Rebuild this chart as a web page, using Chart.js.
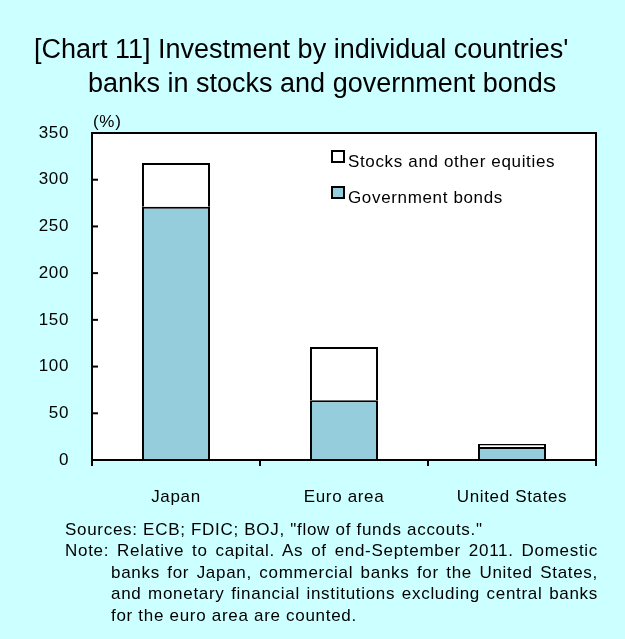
<!DOCTYPE html>
<html>
<head>
<meta charset="utf-8">
<script src="https://cdn.jsdelivr.net/npm/chart.js@4/dist/chart.umd.min.js"></script>
<style>
  body { margin: 0; background: #ccffff; font-family: "Liberation Sans", Arial, sans-serif; color: #000; }
  #wrap { position: relative; width: 625px; height: 639px; overflow: hidden; }
  #grafico { position: absolute; left: 0; top: 0; }
  .txt { position: absolute; white-space: nowrap; }
  .titulo { font-size: 27px; line-height: 34px; }
  .nota { font-size: 17px; line-height: 21.6px; letter-spacing: 0.7px; }
  .just { text-align: justify; text-align-last: justify; }
</style>
</head>
<body>
<div id="wrap">
  <canvas id="grafico" width="625" height="639"></canvas>
  <div class="txt titulo" style="left:34px;top:32px">[Chart 11] Investment by individual countries'</div>
  <div class="txt titulo" style="left:88px;top:66px">banks in stocks and government bonds</div>
  <div class="txt nota" style="left:93px;top:111px">(%)</div>
  <div class="txt nota" style="left:65px;top:519px">Sources: ECB; FDIC; BOJ, "flow of funds accouts."</div>
  <div class="txt nota just" style="left:65px;top:540px;width:533px">Note: Relative to capital. As of end-September 2011. Domestic</div>
  <div class="txt nota just" style="left:111px;top:561.6px;width:487px">banks for Japan, commercial banks for the United States,</div>
  <div class="txt nota just" style="left:111px;top:583.2px;width:487px">and monetary financial institutions excluding central banks</div>
  <div class="txt nota" style="left:111px;top:604.8px">for the euro area are counted.</div>
</div>
<script>
// bank holdings relative to capital, %
const countries = ["Japan", "Euro area", "United States"];
const govBonds = [271, 64, 14];
const equities = [47, 57, 3];
const seriesNames = ["Stocks and other equities", "Government bonds"];
const yMax = 350;
const yStep = 50;

const FONT = '"Liberation Sans", Arial, sans-serif';
const BLUE = "#96cddc";

Chart.defaults.font.family = FONT;
Chart.defaults.font.size = 17;
Chart.defaults.color = "#000";

// white plot area, slightly wider letters like the rest of the page
const plotBg = {
  id: "plotBg",
  beforeDraw(chart) {
    const { ctx, chartArea: a } = chart;
    ctx.letterSpacing = "0.65px";
    ctx.save();
    ctx.fillStyle = "#fff";
    ctx.fillRect(a.left, a.top, a.right - a.left, a.bottom - a.top);
    ctx.restore();
  },
};

// frame and inward ticks on the value axis
const frame = {
  id: "frame",
  afterDatasetsDraw(chart) {
    const { ctx, chartArea: a, scales } = chart;
    ctx.save();
    ctx.strokeStyle = "#000";
    ctx.lineWidth = 2;
    scales.y.ticks.forEach((t) => {
      const y = scales.y.getPixelForValue(t.value);
      ctx.beginPath();
      ctx.moveTo(a.left, y);
      ctx.lineTo(a.left + 6, y);
      ctx.stroke();
    });
    ctx.strokeRect(a.left, a.top, a.right - a.left, a.bottom - a.top);
    ctx.restore();
  },
};

// legend drawn inside the plot, top right
const innerLegend = {
  id: "innerLegend",
  afterDraw(chart) {
    const { ctx } = chart;
    const rows = [
      { ds: chart.data.datasets[1], y: 151 },
      { ds: chart.data.datasets[0], y: 187 },
    ];
    ctx.save();
    ctx.font = "17px " + FONT;
    ctx.textBaseline = "alphabetic";
    rows.forEach((r) => {
      ctx.fillStyle = r.ds.backgroundColor;
      ctx.fillRect(332, r.y, 12, 11);
      ctx.strokeStyle = "#000";
      ctx.lineWidth = 2;
      ctx.strokeRect(332, r.y, 12, 11);
      ctx.fillStyle = "#000";
      ctx.fillText(r.ds.label, 348, r.y + 16);
    });
    ctx.restore();
  },
};

const grafico = new Chart(document.getElementById("grafico"), {
  type: "bar",
  data: {
    labels: countries,
    datasets: [
      {
        label: seriesNames[1],
        data: govBonds,
        backgroundColor: BLUE,
        borderColor: "#000",
        borderWidth: 2,
        barPercentage: 0.405,
        categoryPercentage: 1,
      },
      {
        label: seriesNames[0],
        data: equities,
        backgroundColor: "#fff",
        borderColor: "#000",
        borderWidth: 2,
        barPercentage: 0.405,
        categoryPercentage: 1,
      },
    ],
  },
  options: {
    responsive: false,
    animation: false,
    layout: { padding: { left: 0, right: 29, top: 133, bottom: 119 } },
    plugins: { legend: { display: false }, tooltip: { enabled: false } },
    scales: {
      x: {
        stacked: true,
        afterFit: (s) => { s.height = 60; },
        grid: {
          drawOnChartArea: false,
          drawTicks: true,
          tickLength: 6,
          color: "#000",
          lineWidth: 2,
          offset: true,
        },
        border: { display: false },
        ticks: { padding: 21, font: { size: 17 } },
      },
      y: {
        stacked: true,
        min: 0,
        max: yMax,
        afterFit: (s) => { s.width = 92; },
        grid: { display: false, drawTicks: false },
        border: { display: false },
        ticks: { stepSize: yStep, padding: 23, font: { size: 17 } },
      },
    },
  },
  plugins: [plotBg, frame, innerLegend],
});
</script>
</body>
</html>
